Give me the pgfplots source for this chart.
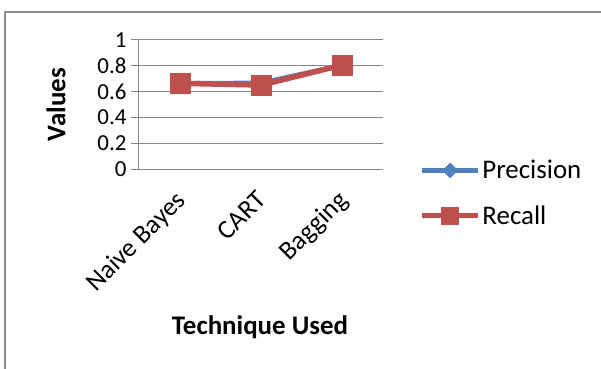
\documentclass[border=0pt]{standalone}
\usepackage{pgfplots}
\pgfplotsset{compat=1.18}
\usepackage{fontspec}
\setmainfont{Carlito}

\definecolor{precblue}{HTML}{4F81BD}
\definecolor{recred}{HTML}{C0504D}
\definecolor{gridgray}{HTML}{868686}
\definecolor{framegray}{HTML}{8C8C8C}

\pgfplotsset{
  longleg/.style={legend image code/.code={
    \draw[mark repeat=2, mark phase=2, ##1] plot coordinates {(0bp,0bp) (28bp,0bp) (56bp,0bp)};}},
  longlegsmall/.style={legend image code/.code={
    \draw[mark repeat=2, mark phase=2, ##1, mark size=8.5bp] plot coordinates {(0bp,0bp) (28bp,0bp) (56bp,0bp)};}},
}

\pgfplotstableread{
x  prec   rec
0  0.664  0.664
1  0.668  0.651
2  0.806  0.806
}\results

\begin{document}
\begin{tikzpicture}
\useasboundingbox (0,0) rectangle (601bp,369bp);
% outer chart frame (runs past the right and bottom edges)
\draw[framegray, line width=1.5bp] (5bp,-10bp) -- (5bp,357bp) -- (620bp,357bp);
\begin{axis}[
  at={(138bp,200bp)}, anchor=south west,
  scale only axis, width=245bp, height=129bp,
  xmin=-0.52, xmax=2.5, ymin=0, ymax=1,
  xtick={0,1,2}, xticklabels={Naive Bayes,CART,Bagging},
  ytick={0,0.2,0.4,0.6,0.8,1},
  yticklabels={0,0.2,0.4,0.6,0.8,1},
  axis x line*=bottom, axis y line*=left,
  axis line style={gridgray, line width=1bp, -},
  x axis line style={draw=none},
  ymajorgrids, grid style={gridgray, line width=1bp},
  major tick length=7bp,
  xtick style={draw=none},
  ytick style={gridgray, line width=1bp},
  ytick pos=left, ytick align=outside,
  yticklabel style={xshift=-1bp, font=\fontsize{23}{26}\selectfont},
  xticklabel style={rotate=45, anchor=north east, font=\fontsize{26.5}{30}\selectfont,
    xshift=-15bp, yshift=-6.4bp},
  ylabel={\textbf{Values}},
  ylabel style={at={(axis description cs:-0.335,0.5)}, anchor=center, rotate=0,
    font=\fontsize{27}{31}\selectfont},
  xlabel={\textbf{Technique Used}},
  xlabel style={at={(axis description cs:0.498,-1.225)}, anchor=center,
    font=\fontsize{27}{31}\selectfont},
  legend style={at={(axis description cs:1.148,-0.186)}, anchor=west, draw=none, fill=none,
    font=\fontsize{27}{31}\selectfont, row sep=22bp, inner sep=0pt,
    nodes={inner sep=1.5bp}},
  legend cell align=left,
  clip=false,
]
\addplot[precblue, line width=4.5bp, mark=square*, mark size=5.3bp,
  mark options={solid, rotate=45, fill=precblue, draw=precblue, line width=0.5bp},
  longleg]
  table[x=x, y=prec] {\results};
\addlegendentry{Precision}
\addplot[recred, line width=5.5bp, mark=square*, mark size=10bp,
  mark options={solid, fill=recred, draw=recred, line width=0.5bp},
  longlegsmall]
  table[x=x, y=rec] {\results};
\addlegendentry{Recall}
\end{axis}
\end{tikzpicture}
\end{document}
